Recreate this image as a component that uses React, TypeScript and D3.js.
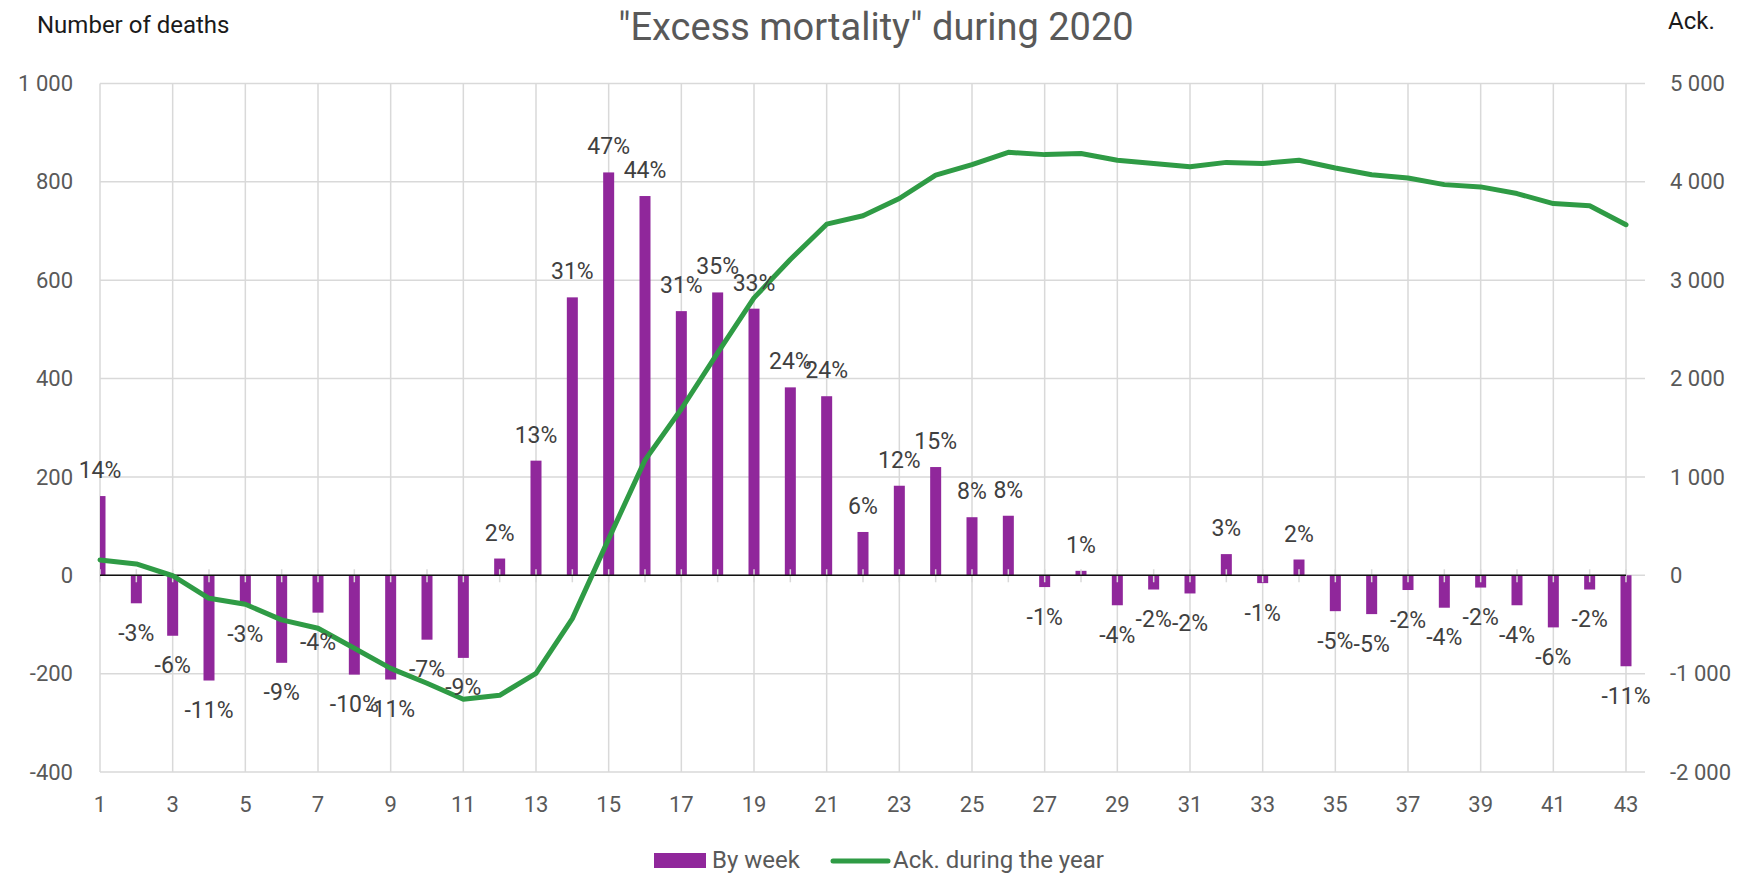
import React from 'react'
import * as d3 from 'd3'

// weekly excess deaths (left axis) and the running total (right axis)
const weeks = d3.range(1, 44)
const byWeek = [161, -57, -123, -214, -60, -178, -76, -202, -212, -131, -168, 34, 233,
  565, 819, 771, 537, 575, 542, 382, 364, 88, 182, 220, 118, 121, -24, 9, -61, -29,
  -37, 43, -16, 32, -73, -79, -30, -66, -25, -61, -106, -29, -185]
const ackYear = [156, 115, -5, -234, -295, -454, -539, -742, -946, -1098, -1261, -1220, -997,
  -441, 370, 1170, 1690, 2260, 2820, 3210, 3569, 3655, 3830, 4067, 4174, 4299, 4276, 4287,
  4219, 4186, 4152, 4197, 4186, 4219, 4140, 4072, 4039, 3971, 3948, 3880, 3778, 3756, 3563]
const pctLabels = ['14%', '-3%', '-6%', '-11%', '-3%', '-9%', '-4%', '-10%', '-11%', '-7%', '-9%',
  '2%', '13%', '31%', '47%', '44%', '31%', '35%', '33%', '24%', '24%', '6%', '12%', '15%', '8%',
  '8%', '-1%', '1%', '-4%', '-2%', '-2%', '3%', '-1%', '2%', '-5%', '-5%', '-2%', '-4%', '-2%',
  '-4%', '-6%', '-2%', '-11%']
const leftTicks = [-400, -200, 0, 200, 400, 600, 800, 1000]
const rightTicks = [-2000, -1000, 0, 1000, 2000, 3000, 4000, 5000]
const xTickWeeks = weeks.filter(w => w % 2 === 1)

const W = 1744, H = 876
const plot = { left: 100, right: 1645, top: 83.4, bottom: 772 }
const font = 'Roboto, "Noto Sans", sans-serif'
const purple = '#90279b'
const green = '#2f9b45'
const grey = '#595959'
const gridCol = '#d9d9d9'

const fmt = d3.formatLocale({ decimal: ',', thousands: ' ', grouping: [3], currency: ['', ''], minus: '-' }).format(',d')

export default function App() {
  const x = d3.scaleLinear().domain([1, 43]).range([100, 1626])
  const yL = d3.scaleLinear().domain([-400, 1000]).range([plot.bottom, plot.top])
  const yR = d3.scaleLinear().domain([-2000, 5000]).range([plot.bottom, plot.top])
  const barW = 11

  const line = d3.line<number>()
    .x((_, i) => x(weeks[i]))
    .y(d => yR(d))

  return (
    <svg width={W} height={H} style={{ position: 'absolute', left: 0, top: 0, background: '#fff' }}
      fontFamily={font}>
      <defs>
        <clipPath id="plotClip">
          <rect x={plot.left} y={0} width={plot.right - plot.left} height={H} />
        </clipPath>
      </defs>

      {/* titles */}
      <text x={876} y={40} textAnchor="middle" fontSize={38} fill={grey}>"Excess mortality" during 2020</text>
      <text x={37} y={33} fontSize={24} fill="#1a1a1a">Number of deaths</text>
      <text x={1668} y={29} fontSize={24} fill="#1a1a1a">Ack.</text>

      {/* grid */}
      {leftTicks.map(t => (
        <line key={'h' + t} x1={plot.left} x2={plot.right} y1={yL(t)} y2={yL(t)} stroke={gridCol} strokeWidth={1.5} />
      ))}
      {xTickWeeks.map(w => (
        <line key={'v' + w} x1={x(w)} x2={x(w)} y1={plot.top} y2={plot.bottom} stroke={gridCol} strokeWidth={1.5} />
      ))}

      {/* bars */}
      <g clipPath="url(#plotClip)">
        {byWeek.map((v, i) => (
          <rect key={'b' + i} x={x(weeks[i]) - barW / 2} width={barW}
            y={Math.min(yL(v), yL(0))} height={Math.abs(yL(v) - yL(0))} fill={purple} />
        ))}
      </g>

      {/* week ticks and zero axis */}
      {weeks.map(w => (
        <line key={'t' + w} x1={x(w)} x2={x(w)} y1={yL(0) - 6} y2={yL(0) + 7} stroke={gridCol} strokeWidth={1.5} />
      ))}
      <line x1={x(1)} x2={x(43)} y1={yL(0)} y2={yL(0)} stroke="#111" strokeWidth={1.3} />

      {/* cumulative line */}
      <path d={line(ackYear) || ''} fill="none" stroke={green} strokeWidth={5} strokeLinejoin="round" strokeLinecap="round" />

      {/* data labels */}
      {byWeek.map((v, i) => (
        <text key={'l' + i} x={x(weeks[i])} y={v >= 0 ? yL(v) - 18 : yL(v) + 37.5}
          textAnchor="middle" fontSize={23} fill="#404040">{pctLabels[i]}</text>
      ))}

      {/* axes labels */}
      {leftTicks.map(t => (
        <text key={'yl' + t} x={73} y={yL(t)} dy="0.35em" textAnchor="end" fontSize={22} fill={grey}>{fmt(t)}</text>
      ))}
      {rightTicks.map(t => (
        <text key={'yr' + t} x={1670} y={yR(t)} dy="0.35em" textAnchor="start" fontSize={22} fill={grey}>{fmt(t)}</text>
      ))}
      {xTickWeeks.map(w => (
        <text key={'xl' + w} x={x(w)} y={812} textAnchor="middle" fontSize={22} fill={grey}>{w}</text>
      ))}

      {/* legend */}
      <rect x={654} y={853} width={52} height={15} fill={purple} />
      <text x={712} y={868} fontSize={24} fill={grey}>By week</text>
      <line x1={833} x2={888} y1={861} y2={861} stroke={green} strokeWidth={5} strokeLinecap="round" />
      <text x={893} y={868} fontSize={24} fill={grey}>Ack. during the year</text>
    </svg>
  )
}
